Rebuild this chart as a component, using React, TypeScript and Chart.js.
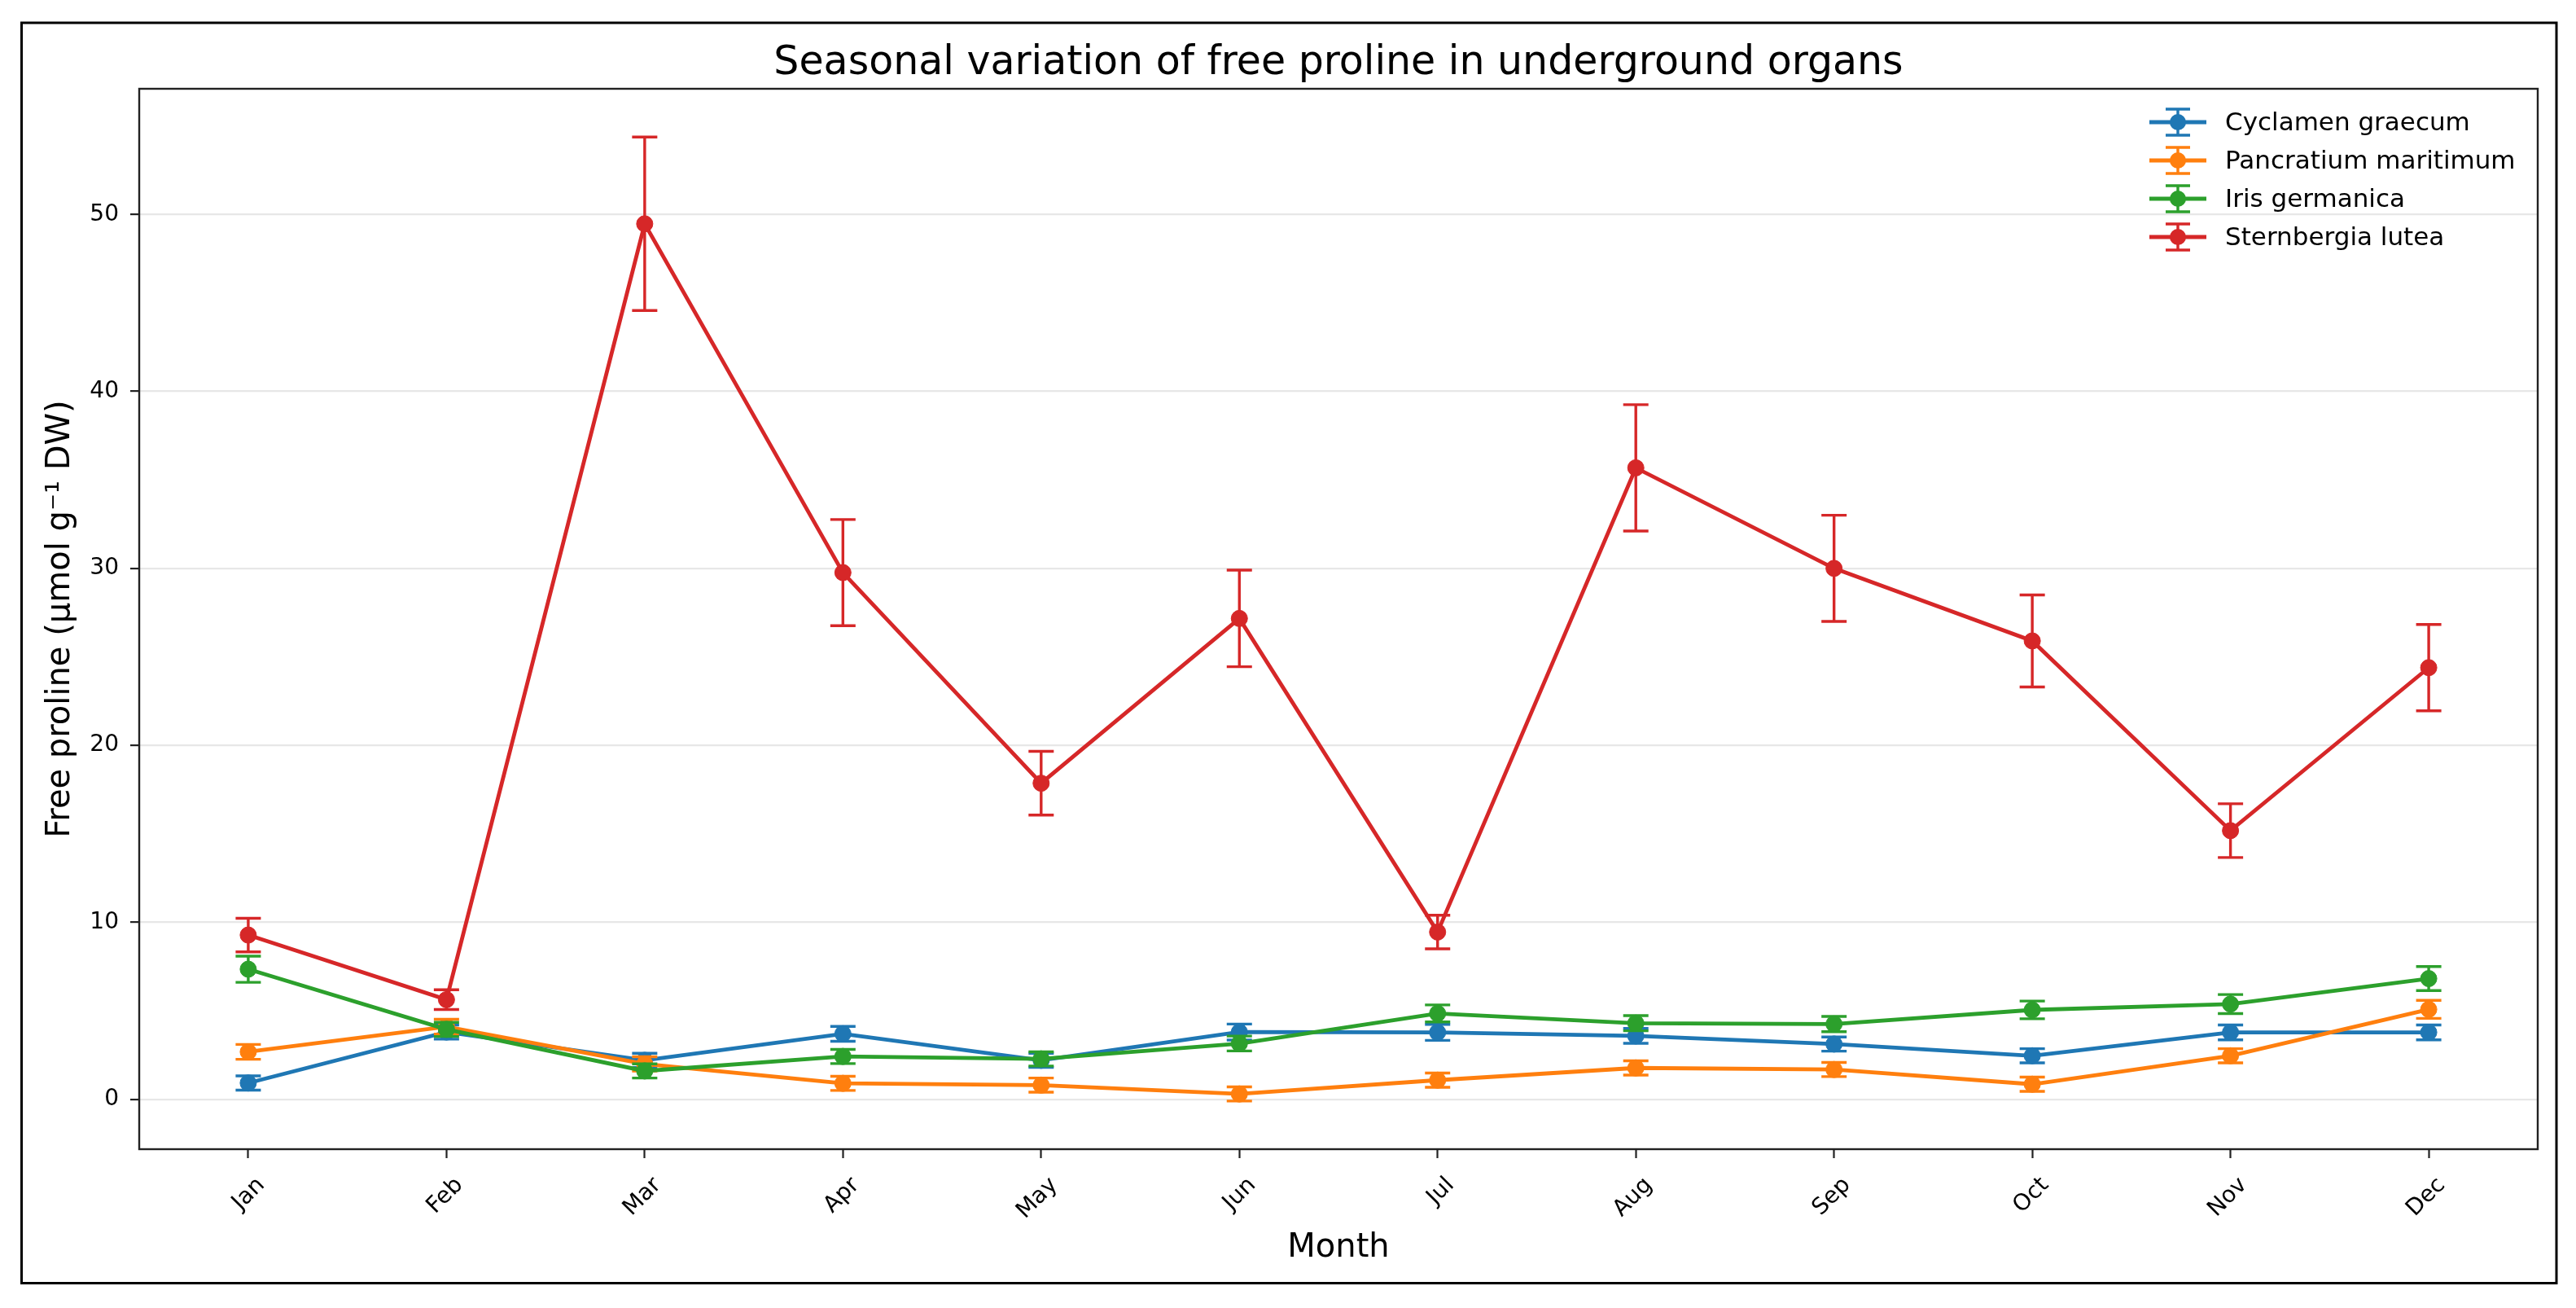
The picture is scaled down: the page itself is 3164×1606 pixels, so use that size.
import React, { useEffect, useRef } from "react";
import { Chart, registerables } from "chart.js";

Chart.register(...registerables);

const months = ["Jan", "Feb", "Mar", "Apr", "May", "Jun", "Jul", "Aug", "Sep", "Oct", "Nov", "Dec"];
const seriesNames = ["Cyclamen graecum", "Pancratium maritimum", "Iris germanica", "Sternbergia lutea"];
const seriesColors = ["#1f77b4", "#ff7f0e", "#2ca02c", "#d62728"];

const cyclamen = [0.92, 3.8, 2.2, 3.7, 2.2, 3.8, 3.78, 3.58, 3.12, 2.46, 3.78, 3.78];
const cyclamenErr = [0.4, 0.4, 0.4, 0.42, 0.4, 0.45, 0.45, 0.42, 0.4, 0.4, 0.42, 0.42];
const pancratium = [2.68, 4.1, 2.0, 0.9, 0.8, 0.3, 1.08, 1.77, 1.68, 0.85, 2.46, 5.08];
const pancratiumErr = [0.42, 0.42, 0.4, 0.4, 0.4, 0.4, 0.4, 0.4, 0.4, 0.4, 0.4, 0.51];
const iris = [7.35, 3.95, 1.6, 2.42, 2.28, 3.15, 4.85, 4.3, 4.25, 5.05, 5.38, 6.82];
const irisErr = [0.74, 0.4, 0.4, 0.4, 0.4, 0.42, 0.48, 0.43, 0.43, 0.5, 0.54, 0.68];
const sternbergia = [9.28, 5.63, 49.47, 29.76, 17.86, 27.17, 9.45, 35.68, 30.0, 25.9, 15.18, 24.39];
const sternbergiaErr = [0.95, 0.56, 4.9, 3.0, 1.8, 2.73, 0.95, 3.57, 3.0, 2.6, 1.52, 2.44];

const yTicks = [0, 10, 20, 30, 40, 50];

const FONT = "'DejaVu Sans', sans-serif";

const W = 3164;
const H = 1606;

// white page + outer black frame
const framePlugin = {
  id: "frame",
  beforeDraw(chart: any) {
    const ctx = chart.ctx;
    ctx.save();
    ctx.fillStyle = "#fff";
    ctx.fillRect(0, 0, chart.width, chart.height);
    ctx.strokeStyle = "#000";
    ctx.lineWidth = 3;
    ctx.strokeRect(26.5, 28, 3140 - 26.5, 1575.5 - 28);
    ctx.restore();
  },
};

function drawErrorBar(ctx: any, x: number, yTop: number, yBot: number, cap: number) {
  ctx.beginPath();
  ctx.moveTo(x, yTop);
  ctx.lineTo(x, yBot);
  ctx.moveTo(x - cap, yTop);
  ctx.lineTo(x + cap, yTop);
  ctx.moveTo(x - cap, yBot);
  ctx.lineTo(x + cap, yBot);
  ctx.stroke();
}

const errorBarPlugin = {
  id: "errorBars",
  beforeDatasetDraw(chart: any, args: any) {
    const ds = chart.data.datasets[args.index];
    const errs: number[] = ds.errors || [];
    const xs = chart.scales.x;
    const ys = chart.scales.y;
    const ctx = chart.ctx;
    ctx.save();
    ctx.strokeStyle = ds.borderColor;
    ctx.lineWidth = 3.4;
    ds.data.forEach((p: any, i: number) => {
      const e = errs[i] || 0;
      const x = xs.getPixelForValue(p.x);
      drawErrorBar(ctx, x, ys.getPixelForValue(p.y + e), ys.getPixelForValue(p.y - e), 15.5);
    });
    ctx.restore();
  },
};

// axes box on all four sides
const boxPlugin = {
  id: "axesBox",
  afterDraw(chart: any) {
    const { left, top, right, bottom } = chart.chartArea;
    const ctx = chart.ctx;
    ctx.save();
    ctx.strokeStyle = "#222";
    ctx.lineWidth = 2.4;
    ctx.strokeRect(left, top, right - left, bottom - top);
    ctx.restore();
  },
};

// matplotlib-like legend with errorbar handles, no frame
const legendPlugin = {
  id: "ebLegend",
  afterDraw(chart: any) {
    const ctx = chart.ctx;
    ctx.save();
    chart.data.datasets.forEach((ds: any, i: number) => {
      const cy = 150 + i * 47;
      const cx = 2675;
      ctx.strokeStyle = ds.borderColor;
      ctx.fillStyle = ds.borderColor;
      ctx.lineWidth = 4.8;
      ctx.beginPath();
      ctx.moveTo(cx - 35, cy);
      ctx.lineTo(cx + 35, cy);
      ctx.stroke();
      ctx.lineWidth = 3.4;
      drawErrorBar(ctx, cx, cy - 16, cy + 16, 15);
      ctx.beginPath();
      ctx.arc(cx, cy, 10, 0, Math.PI * 2);
      ctx.fill();
      ctx.fillStyle = "#000";
      ctx.font = "31px " + FONT;
      ctx.textBaseline = "middle";
      ctx.textAlign = "left";
      ctx.fillText(ds.label, 2733, cy + 2);
    });
    ctx.restore();
  },
};

const App: React.FC = () => {
  const chartRef = useRef<HTMLCanvasElement | null>(null);
  const chartInstance = useRef<Chart | null>(null);

  useEffect(() => {
    if (!chartRef.current) return;
    if (chartInstance.current) chartInstance.current.destroy();

    const values = [cyclamen, pancratium, iris, sternbergia];
    const errors = [cyclamenErr, pancratiumErr, irisErr, sternbergiaErr];

    const ctx = chartRef.current.getContext("2d");
    if (!ctx) return;

    chartInstance.current = new Chart(ctx, {
      type: "line",
      data: {
        datasets: seriesNames.map((name, s) => ({
          label: name,
          data: values[s].map((v, i) => ({ x: i, y: v })),
          errors: errors[s],
          borderColor: seriesColors[s],
          backgroundColor: seriesColors[s],
          pointBackgroundColor: seriesColors[s],
          pointBorderColor: seriesColors[s],
          borderWidth: 4.8,
          pointRadius: 10,
          pointHoverRadius: 10,
          pointBorderWidth: 1,
          tension: 0,
          fill: false,
          order: seriesNames.length - s,
        })) as any,
      },
      options: {
        responsive: false,
        devicePixelRatio: 1,
        animation: false,
        events: [],
        layout: { padding: { left: 0, right: 47, top: 0, bottom: 0 } },
        plugins: {
          legend: { display: false },
          tooltip: { enabled: false },
          title: {
            display: true,
            text: "Seasonal variation of free proline in underground organs",
            fullSize: false,
            color: "#000",
            font: { family: FONT, size: 49, weight: "normal" },
            padding: { top: 49, bottom: 1.2 },
          },
        },
        scales: {
          x: {
            type: "linear",
            min: -0.55,
            max: 11.55,
            afterBuildTicks: (scale: any) => {
              scale.ticks = months.map((_, i) => ({ value: i }));
            },
            afterFit: (scale: any) => {
              scale.height = H - 1411;
            },
            ticks: {
              autoSkip: false,
              minRotation: 45,
              maxRotation: 45,
              padding: 17,
              labelOffset: 16,
              color: "#000",
              font: { family: FONT, size: 28 },
              callback: (value: any) => months[Number(value)] ?? "",
            },
            grid: {
              drawOnChartArea: false,
              drawTicks: true,
              tickLength: 11,
              tickColor: "#222",
              tickWidth: 2.2,
            },
            border: { display: false },
            title: {
              display: true,
              text: "Month",
              color: "#000",
              font: { family: FONT, size: 40 },
              padding: { top: 0, bottom: 49 },
            },
          },
          y: {
            type: "linear",
            min: -2.82,
            max: 57.1,
            afterBuildTicks: (scale: any) => {
              scale.ticks = yTicks.map((v) => ({ value: v }));
            },
            afterFit: (scale: any) => {
              scale.width = 171;
            },
            ticks: {
              padding: 14,
              color: "#000",
              font: { family: FONT, size: 28 },
              callback: (value: any) => `${value}`,
            },
            grid: {
              color: "rgba(176,176,176,0.3)",
              lineWidth: 2.2,
              drawTicks: true,
              tickLength: 11,
              tickColor: "#222",
              tickWidth: 2.2,
            },
            border: { display: false },
            title: {
              display: true,
              text: "Free proline (μmol g⁻¹ DW)",
              color: "#000",
              font: { family: FONT, size: 40 },
              padding: { top: 51, bottom: 0 },
            },
          },
        },
      },
      plugins: [framePlugin, errorBarPlugin, boxPlugin, legendPlugin],
    });

    return () => {
      if (chartInstance.current) {
        chartInstance.current.destroy();
        chartInstance.current = null;
      }
    };
  }, []);

  return (
    <div style={{ position: "absolute", left: 0, top: 0, width: W, height: H, background: "#fff" }}>
      <canvas ref={chartRef} width={W} height={H} style={{ display: "block" }}></canvas>
    </div>
  );
};

export default App;
